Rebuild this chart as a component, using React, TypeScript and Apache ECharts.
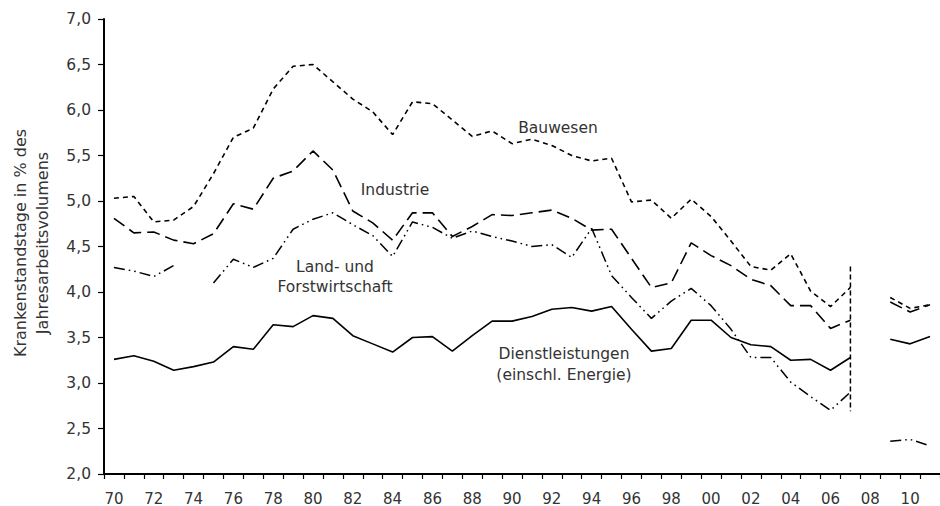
import React, { useEffect, useRef } from "react";
import * as echarts from "echarts";

const years = [
  "1970", "1971", "1972", "1973", "1974", "1975", "1976", "1977", "1978", "1979",
  "1980", "1981", "1982", "1983", "1984", "1985", "1986", "1987", "1988", "1989",
  "1990", "1991", "1992", "1993", "1994", "1995", "1996", "1997", "1998", "1999",
  "2000", "2001", "2002", "2003", "2004", "2005", "2006", "2007", "2008", "2009",
  "2010", "2011",
];

const bauwesen = [
  5.03, 5.05, 4.77, 4.79, 4.94, 5.3, 5.7, 5.8, 6.23, 6.48,
  6.5, 6.31, 6.12, 5.98, 5.73, 6.09, 6.07, 5.89, 5.71, 5.77,
  5.63, 5.68, 5.61, 5.5, 5.44, 5.47, 4.99, 5.01, 4.81, 5.02,
  4.83, 4.56, 4.28, 4.24, 4.42, 4.01, 3.84, 4.05, null, 3.94,
  3.82, 3.86,
];

const industrie = [
  4.81, 4.65, 4.66, 4.57, 4.53, 4.64, 4.97, 4.91, 5.25, 5.33,
  5.55, 5.34, 4.89, 4.76, 4.57, 4.87, 4.87, 4.61, 4.72, 4.85,
  4.84, 4.87, 4.9, 4.81, 4.68, 4.69, 4.37, 4.05, 4.1, 4.54,
  4.4, 4.29, 4.14, 4.07, 3.85, 3.85, 3.6, 3.69, null, 3.89,
  3.78, 3.86,
];

const landForst = [
  4.27, 4.23, 4.17, 4.29, null, 4.1, 4.36, 4.27, 4.37, 4.69,
  4.8, 4.87, 4.74, 4.62, 4.39, 4.77, 4.71, 4.59, 4.67, 4.61,
  4.56, 4.5, 4.52, 4.38, 4.7, 4.18, 3.94, 3.71, 3.9, 4.04,
  3.85, 3.59, 3.28, 3.28, 3.01, 2.85, 2.7, 2.9, null, 2.36,
  2.38, 2.31,
];

const dienst = [
  3.26, 3.3, 3.24, 3.14, 3.18, 3.23, 3.4, 3.37, 3.64, 3.62,
  3.74, 3.71, 3.52, 3.43, 3.34, 3.5, 3.51, 3.35, 3.52, 3.68,
  3.68, 3.73, 3.81, 3.83, 3.79, 3.84, 3.59, 3.35, 3.38, 3.69,
  3.69, 3.5, 3.42, 3.4, 3.25, 3.26, 3.14, 3.28, null, 3.48,
  3.43, 3.51,
];

const breakYear = "2007";
const breakRange = [4.28, 2.69];

const yAxisTitle = ["Krankenstandstage in % des", "Jahresarbeitsvolumens"];

const FONT = "DejaVu Sans";
const TEXT = "#333333";

export default function App() {
  const ref = useRef<HTMLDivElement>(null);

  useEffect(() => {
    if (!ref.current) return;
    const chart = echarts.init(ref.current, null, { renderer: "svg" });
    const lineBase = { type: "line", symbol: "none", silent: true };
    const labelStyle = { fontFamily: FONT, fontSize: 15.5, fill: TEXT, textAlign: "center", textVerticalAlign: "middle" };
    chart.setOption({
      animation: false,
      backgroundColor: "#ffffff",
      grid: { left: 104, top: 19, width: 844, height: 457, containLabel: false },
      xAxis: {
        type: "category",
        data: years,
        boundaryGap: true,
        axisLine: { show: true, lineStyle: { color: "#000", width: 2 } },
        axisTick: { show: true, interval: 0, length: 5, lineStyle: { color: "#000", width: 1.2 } },
        axisLabel: {
          interval: 1,
          formatter: (v: string) => v.slice(2),
          fontFamily: FONT,
          fontSize: 15,
          color: TEXT,
          margin: 17,
        },
        splitLine: { show: false },
      },
      yAxis: {
        type: "value",
        min: 2,
        max: 7,
        interval: 0.5,
        axisLine: { show: true, lineStyle: { color: "#000", width: 2 } },
        axisTick: { show: true, length: 6, lineStyle: { color: "#000", width: 1.2 } },
        axisLabel: {
          formatter: (v: number) => v.toFixed(1).replace(".", ","),
          fontFamily: FONT,
          fontSize: 15.5,
          color: TEXT,
          margin: 13,
        },
        splitLine: { show: false },
      },
      graphic: [
        {
          type: "text",
          x: 31,
          y: 243,
          rotation: Math.PI / 2,
          style: { ...labelStyle, text: yAxisTitle.join("\n"), fontSize: 16, lineHeight: 22 },
        },
        { type: "text", x: 558, y: 128, style: { ...labelStyle, text: "Bauwesen" } },
        { type: "text", x: 395, y: 190, style: { ...labelStyle, text: "Industrie" } },
        { type: "text", x: 335, y: 277, style: { ...labelStyle, text: "Land- und\nForstwirtschaft", lineHeight: 20 } },
        { type: "text", x: 564, y: 364, style: { ...labelStyle, text: "Dienstleistungen\n(einschl. Energie)", lineHeight: 21 } },
      ],
      series: [
        {
          ...lineBase,
          name: "Bauwesen",
          data: bauwesen,
          lineStyle: { color: "#000", width: 1.6, type: [5, 4] },
        },
        {
          ...lineBase,
          name: "Industrie",
          data: industrie,
          lineStyle: { color: "#000", width: 1.6, type: [13, 6] },
        },
        {
          ...lineBase,
          name: "Land- und Forstwirtschaft",
          data: landForst,
          lineStyle: { color: "#000", width: 1.5, type: [11, 4, 1.6, 4, 1.6, 4] },
        },
        {
          ...lineBase,
          name: "Dienstleistungen (einschl. Energie)",
          data: dienst,
          lineStyle: { color: "#000", width: 1.6, type: "solid" },
        },
        {
          ...lineBase,
          name: "Bruch",
          data: breakRange.map((v) => [breakYear, v]),
          lineStyle: { color: "#000", width: 1.5, type: [5, 3] },
        },
      ],
    });
    return () => chart.dispose();
  }, []);

  return <div ref={ref} style={{ width: 940, height: 506, position: "absolute", left: 0, top: 0 }} />;
}
